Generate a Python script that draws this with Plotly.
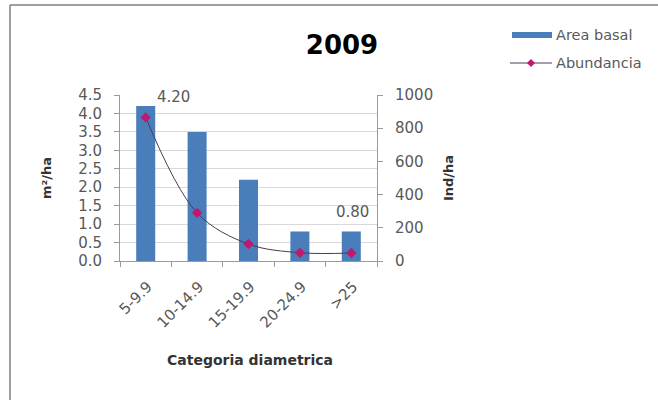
import plotly.graph_objects as go

categories = ["5-9.9", "10-14.9", "15-19.9", "20-24.9", ">25"]
area_basal = [4.2, 3.5, 2.2, 0.8, 0.8]
abundancia = [865, 290, 102, 50, 48]
left_ticks = [0, 0.5, 1.0, 1.5, 2.0, 2.5, 3.0, 3.5, 4.0, 4.5]
right_ticks = [0, 200, 400, 600, 800, 1000]

W, H = 658, 400
L, R, T, B = 120, 281, 95, 139
pw, ph = W - L - R, H - T - B

def px(x):
    return (x - L) / pw

def py(y):
    return (H - B - y) / ph

FONT = "DejaVu Sans, sans-serif"
GRAY = "#595959"
BAR = "#4A7EBB"
LINE = "#4a3a55"
MARK = "#C0186E"

fig = go.Figure()
fig.add_trace(go.Bar(
    x=categories, y=area_basal, name="Area basal",
    marker=dict(color=BAR, line=dict(width=0)),
    width=0.37, yaxis="y", showlegend=False,
))
fig.add_trace(go.Scatter(
    x=categories, y=abundancia, name="Abundancia", yaxis="y2",
    mode="lines+markers", showlegend=False,
    line=dict(color=LINE, width=1, shape="spline", smoothing=1.0),
    marker=dict(symbol="diamond", size=8, color=MARK),
))

fig.add_annotation(x=0, y=area_basal[0], xref="x", yref="y", text="4.20",
                   showarrow=False, xshift=28, yshift=9,
                   font=dict(family=FONT, size=15, color=GRAY))
fig.add_annotation(x=4, y=area_basal[4], xref="x", yref="y", text="0.80",
                   showarrow=False, xshift=1, yshift=19,
                   font=dict(family=FONT, size=15, color=GRAY))

# x axis title
fig.add_annotation(x=px(250), y=py(360), xref="paper", yref="paper",
                   text="<b>Categoria diametrica</b>", showarrow=False,
                   xanchor="center", yanchor="middle",
                   font=dict(family=FONT, size=14, color="#333333"))

# custom legend
fig.add_annotation(x=px(554), y=py(35), xref="paper", yref="paper", text="Area basal",
                   showarrow=False, xanchor="left", yanchor="middle",
                   font=dict(family=FONT, size=14.5, color=GRAY))
fig.add_annotation(x=px(554), y=py(63), xref="paper", yref="paper", text="Abundancia",
                   showarrow=False, xanchor="left", yanchor="middle",
                   font=dict(family=FONT, size=14.5, color=GRAY))

dx, dy = 4 / pw, 4 / ph
cx, cy = px(531), py(63)
shapes = [
    dict(type="line", xref="paper", yref="paper", x0=px(10), x1=px(10),
         y0=py(5), y1=py(400), line=dict(color="#7f7f7f", width=1.5)),
    dict(type="line", xref="paper", yref="paper", x0=px(10), x1=px(658),
         y0=py(5), y1=py(5), line=dict(color="#7f7f7f", width=1.5)),
    dict(type="rect", xref="paper", yref="paper", x0=px(512), x1=px(552),
         y0=py(38), y1=py(32), fillcolor=BAR, line=dict(width=0)),
    dict(type="line", xref="paper", yref="paper", x0=px(510), x1=px(552),
         y0=cy, y1=cy, line=dict(color=LINE, width=1)),
    dict(type="path", xref="paper", yref="paper",
         path=f"M {cx-dx},{cy} L {cx},{cy+dy} L {cx+dx},{cy} L {cx},{cy-dy} Z",
         fillcolor=MARK, line=dict(width=0)),
]

fig.update_layout(
    width=W, height=H,
    margin=dict(l=L, r=R, t=T, b=B),
    paper_bgcolor="white", plot_bgcolor="white",
    font=dict(family=FONT, size=15, color=GRAY),
    title=dict(text="<b>2009</b>", x=342 / W, xanchor="center",
               y=1 - 45 / H, yanchor="middle",
               font=dict(family=FONT, size=26, color="#000000")),
    showlegend=False,
    xaxis=dict(
        type="category", tickangle=-45, showline=True, linecolor="#9a9a9a",
        ticks="outside", ticklen=5, tickcolor="#9a9a9a", tickson="boundaries",
        showgrid=False, ticklabelstandoff=10, ticklabelshift=2,
        tickfont=dict(family=FONT, size=15, color=GRAY),
    ),
    yaxis=dict(
        range=[0, 4.5], tickvals=left_ticks, tickformat=".1f",
        showline=True, linecolor="#9a9a9a", ticks="outside", ticklen=5,
        tickcolor="#9a9a9a", showgrid=True, gridcolor="#d9d9d9", zeroline=False,
        ticklabelstandoff=9,
        tickfont=dict(family=FONT, size=15, color=GRAY),
        title=dict(text="<b>m²/ha</b>", font=dict(family=FONT, size=13, color="#333333"),
                   standoff=23),
    ),
    yaxis2=dict(
        range=[0, 1000], tickvals=right_ticks, overlaying="y", side="right",
        showline=True, linecolor="#9a9a9a", ticks="outside", ticklen=5,
        tickcolor="#9a9a9a", showgrid=False, zeroline=False,
        ticklabelstandoff=9,
        tickfont=dict(family=FONT, size=15, color=GRAY),
        title=dict(text="<b>Ind/ha</b>", font=dict(family=FONT, size=13, color="#333333"),
                   standoff=11),
    ),
    shapes=shapes,
)

fig.write_html("out.html", config={"displayModeBar": False},
               post_script="document.body.style.margin='0';")
